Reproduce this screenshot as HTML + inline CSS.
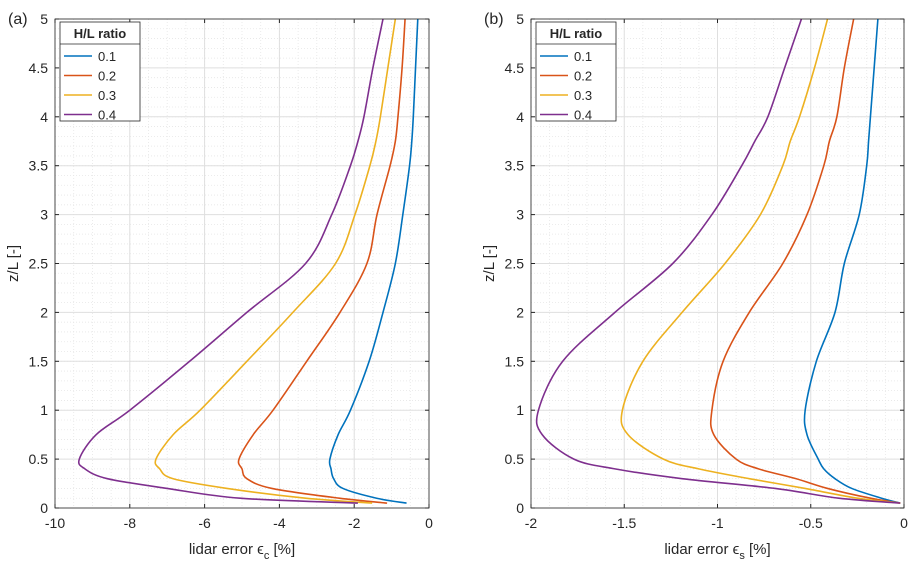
<!DOCTYPE html>
<html><head><meta charset="utf-8"><style>
body{margin:0;background:#fff;font-family:"Liberation Sans",sans-serif}
svg text{font-family:"Liberation Sans",sans-serif;fill:#262626}
</style></head><body>
<svg id="c" width="919" height="569"></svg>
<script>
const zVals=[0.05,0.1,0.2,0.3,0.4,0.5,0.75,1,1.5,2,2.5,3,3.5,3.75,4,4.5,5];
const seriesNames=['0.1','0.2','0.3','0.4'];
const colors=['#0072BD','#D95319','#EDB120','#7E2F8E'];
const epsC=[
[-0.6,-1.4,-2.3,-2.55,-2.62,-2.65,-2.43,-2.1,-1.6,-1.23,-0.9,-0.7,-0.52,-0.46,-0.42,-0.36,-0.3],
[-1.12,-2.4,-4.2,-4.87,-5.0,-5.08,-4.7,-4.17,-3.27,-2.38,-1.66,-1.39,-1.04,-0.9,-0.83,-0.72,-0.64],
[-1.52,-3.3,-5.4,-6.85,-7.2,-7.3,-6.84,-6.12,-4.87,-3.64,-2.5,-1.98,-1.58,-1.42,-1.3,-1.1,-0.9],
[-1.9,-5.05,-7.0,-8.6,-9.2,-9.35,-8.9,-8.0,-6.4,-4.87,-3.3,-2.6,-2.1,-1.9,-1.74,-1.5,-1.23]];
const epsS=[
[-0.02,-0.12,-0.28,-0.37,-0.43,-0.46,-0.52,-0.53,-0.47,-0.37,-0.32,-0.24,-0.2,-0.19,-0.18,-0.16,-0.14],
[-0.02,-0.18,-0.41,-0.58,-0.78,-0.9,-1.02,-1.03,-0.97,-0.83,-0.65,-0.52,-0.43,-0.4,-0.36,-0.32,-0.27],
[-0.02,-0.25,-0.53,-0.83,-1.1,-1.29,-1.48,-1.51,-1.4,-1.19,-0.96,-0.77,-0.65,-0.61,-0.56,-0.48,-0.41],
[-0.02,-0.35,-0.69,-1.19,-1.55,-1.77,-1.94,-1.96,-1.83,-1.55,-1.24,-1.03,-0.87,-0.8,-0.73,-0.64,-0.55]];
const xTicksA=[-10,-8,-6,-4,-2,0];
const xTicksB=[-2,-1.5,-1,-0.5,0];
const yTicks=[0,0.5,1,1.5,2,2.5,3,3.5,4,4.5,5];
const NS='http://www.w3.org/2000/svg';
const svg=document.getElementById('c');
function mk(t,a,p){const e=document.createElementNS(NS,t);for(const k in a)e.setAttribute(k,a[k]);(p||svg).appendChild(e);return e;}
function smooth(pts){
 let d='M'+pts[0][0]+','+pts[0][1];
 for(let i=0;i<pts.length-1;i++){
  const p0=pts[Math.max(i-1,0)],p1=pts[i],p2=pts[i+1],p3=pts[Math.min(i+2,pts.length-1)];
  const c1=[p1[0]+(p2[0]-p0[0])/6,p1[1]+(p2[1]-p0[1])/6];
  const c2=[p2[0]-(p3[0]-p1[0])/6,p2[1]-(p3[1]-p1[1])/6];
  d+=' C'+c1.join(',')+' '+c2.join(',')+' '+p2.join(',');
 }
 return d;
}
function panel(L,R,xmin,xmax,xt,minorStep,data,tag,sub,key){
 const T=19,B=508;
 const g=mk('g',{});
 
 
 const X=v=>L+(v-xmin)/(xmax-xmin)*(R-L), Y=v=>B-v/5*(B-T);
 for(let v=xmin;v<=xmax+1e-9;v+=minorStep){mk('line',{x1:X(v),x2:X(v),y1:T,y2:B,stroke:'#e6e6e6','stroke-dasharray':'1,2','stroke-width':0.8},g);}
 for(let v=0;v<=5+1e-9;v+=0.1){mk('line',{x1:L,x2:R,y1:Y(v),y2:Y(v),stroke:'#e6e6e6','stroke-dasharray':'1,2','stroke-width':0.8},g);}
 xt.forEach(v=>{mk('line',{x1:X(v),x2:X(v),y1:T,y2:B,stroke:'#dfdfdf'},g);
  mk('line',{x1:X(v),x2:X(v),y1:B,y2:B-4,stroke:'#262626'},g);
  mk('line',{x1:X(v),x2:X(v),y1:T,y2:T+4,stroke:'#262626'},g);
  const t=mk('text',{x:X(v),y:B+20,'text-anchor':'middle','font-size':14},g);t.textContent=v;
  
  });
 yTicks.forEach(v=>{mk('line',{x1:L,x2:R,y1:Y(v),y2:Y(v),stroke:'#dfdfdf'},g);
  mk('line',{x1:L,x2:L+4,y1:Y(v),y2:Y(v),stroke:'#262626'},g);
  mk('line',{x1:R,x2:R-4,y1:Y(v),y2:Y(v),stroke:'#262626'},g);
  const t=mk('text',{x:L-7,y:Y(v)+5,'text-anchor':'end','font-size':14},g);t.textContent=v;
  
  });
 data.forEach((s,i)=>{const p=mk('path',{d:smooth(s.map((x,j)=>[X(x),Y(zVals[j])])),fill:'none',stroke:colors[i],'stroke-width':1.6,'stroke-linejoin':'round'},g);
  
  });
 mk('rect',{x:L,y:T,width:R-L,height:B-T,fill:'none',stroke:'#262626','stroke-width':0.8},g);
 const tg=mk('text',{x:L-47,y:24,'font-size':16},g);tg.textContent=tag;
 
 
 const yl=mk('text',{transform:`translate(${L-37},${(T+B)/2}) rotate(-90)`,'text-anchor':'middle','font-size':15},g);yl.textContent='z/L [-]';
 
 
 const xl=mk('text',{x:(L+R)/2,y:554,'text-anchor':'middle','font-size':15},g);
 
 
 xl.innerHTML='lidar error ϵ<tspan font-size="11" dy="5">'+sub+'</tspan><tspan dy="-5"> [%]</tspan>';
 const lg=mk('g',{},g);
 
 
 mk('rect',{x:L+5,y:T+3,width:80,height:99,fill:'#fff',stroke:'#262626','stroke-width':0.8},lg);
 const lt=mk('text',{x:L+45,y:T+19,'text-anchor':'middle','font-size':13,'font-weight':'bold'},lg);lt.textContent='H/L ratio';
 mk('line',{x1:L+5,x2:L+85,y1:T+25,y2:T+25,stroke:'#262626','stroke-width':0.8},lg);
 seriesNames.forEach((n,i)=>{const y=T+37+i*19.5;
  const e=mk('g',{},lg);
  
  
  mk('line',{x1:L+9,x2:L+37,y1:y,y2:y,stroke:colors[i],'stroke-width':1.6},e);
  const t=mk('text',{x:L+43,y:y+5,'font-size':13},e);t.textContent=n;});
}
panel(55,429,-10,0,xTicksA,0.5,epsC,'(a)','c','a');
panel(531,904,-2,0,xTicksB,0.1,epsS,'(b)','s','b');
</script>
</body></html>
